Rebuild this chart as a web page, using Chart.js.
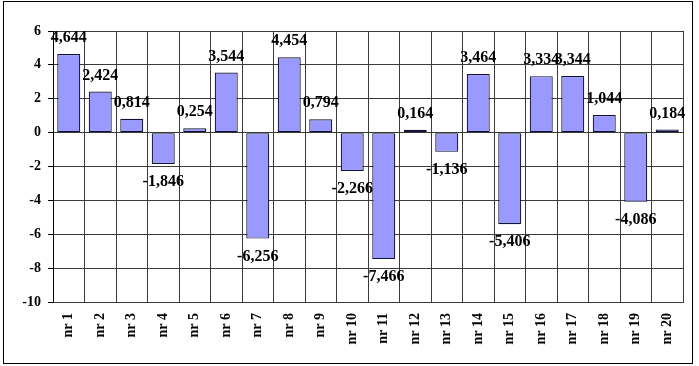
<!DOCTYPE html>
<html>
<head>
<meta charset="utf-8">
<style>
  html, body { margin: 0; padding: 0; background: #fff; }
  #wrap { width: 699px; height: 366px; }
</style>
<script src="https://cdn.jsdelivr.net/npm/chart.js@4/dist/chart.umd.min.js"></script>
</head>
<body>
<div id="wrap"><canvas id="chart" width="699" height="366"></canvas></div>
<script>
// data
const categories = ['nr 1', 'nr 2', 'nr 3', 'nr 4', 'nr 5', 'nr 6', 'nr 7', 'nr 8', 'nr 9', 'nr 10',
  'nr 11', 'nr 12', 'nr 13', 'nr 14', 'nr 15', 'nr 16', 'nr 17', 'nr 18', 'nr 19', 'nr 20'];
const values = [4.644, 2.424, 0.814, -1.846, 0.254, 3.544, -6.256, 4.454, 0.794, -2.266,
  -7.466, 0.164, -1.136, 3.464, -5.406, 3.334, 3.344, 1.044, -4.086, 0.184];
const yMin = -10;
const yMax = 6;
const yStep = 2;

const serif = '"Liberation Serif", "Times New Roman", serif';
const fmt = (v) => v.toFixed(3).replace('.', ',');

// outer frame around the whole chart object
const framePlugin = {
  id: 'frame',
  afterDraw(chart) {
    const ctx = chart.ctx;
    ctx.save();
    ctx.strokeStyle = '#000';
    ctx.lineWidth = 1;
    ctx.strokeRect(3.5, 1.5, 689, 362);
    ctx.restore();
  }
};

// value labels outside the bar end
const valueLabels = {
  id: 'valueLabels',
  afterDatasetsDraw(chart) {
    const ctx = chart.ctx;
    const meta = chart.getDatasetMeta(0);
    ctx.save();
    ctx.font = 'bold 16px ' + serif;
    ctx.fillStyle = '#000';
    ctx.textAlign = 'center';
    ctx.textBaseline = 'middle';
    meta.data.forEach((bar, i) => {
      const v = values[i];
      const y = v >= 0 ? bar.y - 16 : bar.y + 18;
      ctx.fillText(fmt(v), bar.x, y);
    });
    ctx.restore();
  }
};

new Chart(document.getElementById('chart'), {
  type: 'bar',
  data: {
    labels: categories,
    datasets: [{
      data: values,
      backgroundColor: '#9999ff',
      borderColor: '#111133',
      borderWidth: 1.2,
      borderSkipped: false,
      barPercentage: 0.73,
      categoryPercentage: 1
    }]
  },
  options: {
    responsive: false,
    animation: false,
    layout: { padding: { top: 31, right: 16, left: 0, bottom: 0 } },
    plugins: {
      legend: { display: false },
      tooltip: { enabled: false }
    },
    scales: {
      x: {
        afterFit(scale) { scale.height = 64; },
        grid: { color: '#3a3a3a', lineWidth: 1, drawTicks: false, offset: true },
        border: { color: '#3a3a3a' },
        ticks: {
          minRotation: 90,
          maxRotation: 90,
          padding: 11,
          color: '#000',
          font: { family: serif, size: 14, weight: 'bold' }
        }
      },
      y: {
        min: yMin,
        max: yMax,
        afterFit(scale) { scale.width = 53; },
        grid: { color: '#3a3a3a', lineWidth: 1, tickLength: 5, tickColor: '#000' },
        border: { color: '#000' },
        ticks: {
          stepSize: yStep,
          padding: 7,
          color: '#000',
          font: { family: serif, size: 14, weight: 'bold' }
        }
      }
    }
  },
  plugins: [valueLabels, framePlugin]
});
</script>
</body>
</html>
